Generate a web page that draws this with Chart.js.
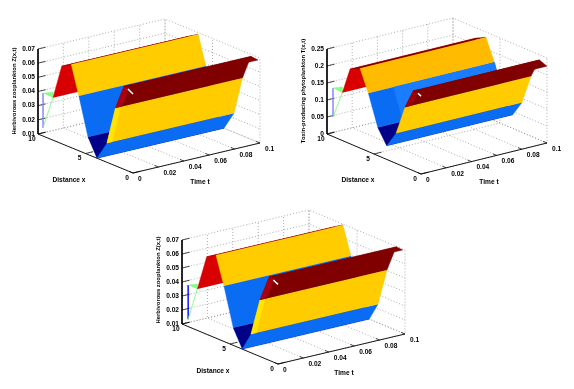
<!DOCTYPE html>
<html>
<head>
<meta charset="utf-8">
<title>Plankton surfaces</title>
<script src="https://cdn.jsdelivr.net/npm/chart.js@4"></script>
<style>
  html, body { margin: 0; padding: 0; background: #fff; }
  #page { position: relative; width: 574px; height: 389px; overflow: hidden; }
  canvas { position: absolute; filter: blur(0.35px); }
</style>
</head>
<body>
<div id="page"></div>
<script>
const xTicks = [0, 5, 10];
const tTicks = [0, 0.02, 0.04, 0.06, 0.08, 0.1];
const tTickLabels = ['0', '0.02', '0.04', '0.06', '0.08', '0.1'];
const zTicksZoo = [0.01, 0.02, 0.03, 0.04, 0.05, 0.06, 0.07];
const zTickLabelsZoo = ['0.01', '0.02', '0.03', '0.04', '0.05', '0.06', '0.07'];
const zTicksToxin = [0, 0.05, 0.1, 0.15, 0.2, 0.25];
const zTickLabelsToxin = ['0', '0.05', '0.1', '0.15', '0.2', '0.25'];

// surface profile along x, the same for every t
const zooX = [8.42, 7.5, 6.5, 5.7, 4.74, 3.79, 2.74, 1.84, 0.95, 0.2];
const zooZ = [0.04, 0.0648, 0.0688, 0.0487, 0.0224, 0.01, 0.0235, 0.0508, 0.0686, 0.068];
const toxinX = [8.37, 7.55, 6.49, 5.6, 4.6, 3.65, 2.66, 1.7, 0.82, 0];
const toxinZ = [0.1406, 0.22, 0.2345, 0.1715, 0.083, 0.04, 0.088, 0.176, 0.235, 0.226];
const zoo2X = [8.4, 7.43, 6.46, 5.63, 4.66, 3.72, 2.81, 1.875, 0.906, 0.24];
const zoo2Z = [0.0396, 0.0654, 0.0694, 0.0496, 0.0226, 0.01, 0.0232, 0.0504, 0.0698, 0.0693];

// stray facets at t = 0 behind the first ridge
const zooEdgeX = [9.47, 8.42, 8.42];
const zooEdgeZ = [0.0404, 0.0439, 0.04];
const zooEdgeLow = 0.0157;
const toxinEdgeX = [9.36, 8.37, 8.37];
const toxinEdgeZ = [0.143, 0.158, 0.1406];
const toxinEdgeLow = 0.0576;
const zoo2EdgeX = [9.36, 8.4, 8.4];
const zoo2EdgeZ = [0.0397, 0.0431, 0.0396];
const zoo2EdgeLow = 0.0152;

// small white glint at the front of the second ridge
const zooGlintX = [0.53, 0];
const zooGlintZ = [0.0678, 0.0658];
const toxinGlintX = [0.32, 0];
const toxinGlintZ = [0.234, 0.229];
const zoo2GlintX = [0.49, 0];
const zoo2GlintZ = [0.0686, 0.0669];

const RED = '#d80000', DARKRED = '#800000', YELLOW = '#ffcc00', ORANGE = '#ffbb00';
const BLUE = '#0a6cf2', NAVY = '#000088', GREEN = '#80ff80';
const TICK_FONT = 'bold 6.6px "Liberation Sans", Arial, sans-serif';
const TITLE_FONT = 'bold 5.9px "Liberation Sans", Arial, sans-serif';

function makePanel(cfg) {
    const canvas = document.createElement('canvas');
    canvas.width = cfg.box[2];
    canvas.height = cfg.box[3];
    canvas.style.left = cfg.box[0] + 'px';
    canvas.style.top = cfg.box[1] + 'px';
    document.getElementById('page').appendChild(canvas);

    const zMin = cfg.zTicks[0];
    const zMax = cfg.zTicks[cfg.zTicks.length - 1];
    const project = (x, t, z) => ({
        x: cfg.corner[0] - cfg.xStep[0] * x / 10 + cfg.tStep[0] * t / 0.1,
        y: cfg.corner[1] - cfg.xStep[1] * x / 10 - cfg.tStep[1] * t / 0.1 - cfg.zHeight * (z - zMin) / (zMax - zMin)
    });

    const datasets = [];
    const addLine = (points, color, width, dash) => datasets.push({
        data: points, showLine: true, pointRadius: 0, borderColor: color,
        borderWidth: width, borderDash: dash || [], fill: false, clip: false
    });
    const addFace = (points, color) => datasets.push({
        data: points, showLine: true, pointRadius: 0, borderColor: color,
        borderWidth: 0.4, backgroundColor: color, fill: 'shape', clip: false
    });

    // dotted box grid
    const grid = '#8a8a8a';
    cfg.zTicks.forEach(z => {
        addLine([project(10, 0, z), project(10, 0.1, z), project(0, 0.1, z)], grid, 0.7, [1, 2]);
    });
    xTicks.forEach(x => {
        addLine([project(x, 0, zMin), project(x, 0.1, zMin), project(x, 0.1, zMax)], grid, 0.7, [1, 2]);
    });
    tTicks.forEach(t => {
        addLine([project(0, t, zMin), project(10, t, zMin), project(10, t, zMax)], grid, 0.7, [1, 2]);
    });

    // solid axes and tick marks
    addLine([project(10, 0, zMax), project(10, 0, zMin), project(0, 0, zMin), project(0, 0.1, zMin)], '#000', 0.9);
    cfg.zTicks.forEach(z => addLine([project(10, 0, z), project(10, 0.006, z)], '#000', 0.7));
    xTicks.forEach(x => addLine([project(x, 0, zMin), project(x, 0.006, zMin)], '#000', 0.7));
    tTicks.forEach(t => addLine([project(0, t, zMin), project(0.4, t, zMin)], '#000', 0.7));

    // stray facets behind the ridge
    const ex = cfg.edgeX, ez = cfg.edgeZ;
    addLine([project(ex[0], 0, cfg.edgeLow), project(ex[0], 0, ez[0])], cfg.edgeBlue, 1.4);
    addLine([project(ex[0], 0, cfg.edgeLow), project(ex[2], 0, ez[2])], GREEN, 0.9);
    addFace(ex.map((x, i) => project(x, 0, ez[i])), GREEN);

    // surface facets, painted from the far side of x to the near side
    const facet = (i, t0, t1, color) => addFace([
        project(cfg.profileX[i], t0, cfg.profileZ[i]),
        project(cfg.profileX[i + 1], t0, cfg.profileZ[i + 1]),
        project(cfg.profileX[i + 1], t1, cfg.profileZ[i + 1]),
        project(cfg.profileX[i], t1, cfg.profileZ[i])
    ], color);
    for (let i = 0; i < cfg.profileX.length - 1; i++) {
        facet(i, 0, 0.1, cfg.faceColors[i]);
        (cfg.strips[i] || []).forEach(s => facet(i, s[0], s[1], s[2]));
    }

    addLine(cfg.glintX.map((x, i) => project(x, 0, cfg.glintZ[i])), '#ffffff', 1.5);

    // later datasets have to land on top
    datasets.forEach((d, i) => { d.order = datasets.length - i; });

    const axisText = {
        id: 'axisText',
        afterDraw(chart) {
            const { ctx } = chart;
            const sx = chart.scales.x, sy = chart.scales.y;
            const put = (text, px, py, align) => {
                ctx.textAlign = align;
                ctx.fillText(text, sx.getPixelForValue(px), sy.getPixelForValue(py));
            };
            ctx.save();
            ctx.font = TICK_FONT;
            ctx.fillStyle = '#000';
            ctx.textBaseline = 'middle';
            cfg.zTicks.forEach((z, i) => {
                const p = project(10, 0, z);
                put(cfg.zTickLabels[i], p.x - 3, p.y, 'right');
            });
            xTicks.forEach(x => {
                const p = project(x, 0, zMin);
                put(String(x), p.x - 6, p.y + 5, 'center');
            });
            tTicks.forEach((t, i) => {
                const p = project(0, t, zMin);
                put(tTickLabels[i], p.x + 5, p.y + 6, 'left');
            });
            put('Distance x', cfg.xLabel[0], cfg.xLabel[1], 'center');
            put('Time t', cfg.tLabel[0], cfg.tLabel[1], 'center');
            ctx.font = TITLE_FONT;
            ctx.translate(sx.getPixelForValue(cfg.zLabel[0]), sy.getPixelForValue(cfg.zLabel[1]));
            ctx.rotate(-Math.PI / 2);
            ctx.textAlign = 'center';
            ctx.fillText(cfg.zTitle, 0, 0);
            ctx.restore();
        }
    };

    return new Chart(canvas.getContext('2d'), {
        type: 'scatter',
        data: { datasets },
        plugins: [axisText],
        options: {
            responsive: false,
            animation: false,
            events: [],
            layout: { padding: 0 },
            plugins: { legend: { display: false }, tooltip: { enabled: false } },
            scales: {
                x: { display: false, type: 'linear', min: cfg.box[0], max: cfg.box[0] + cfg.box[2] },
                y: { display: false, type: 'linear', reverse: true, min: cfg.box[1], max: cfg.box[1] + cfg.box[3] }
            }
        }
    });
}

makePanel({
    box: [0, 0, 287, 195], corner: [133, 173], xStep: [95, 39], tStep: [127, 30], zHeight: 85,
    zTicks: zTicksZoo, zTickLabels: zTickLabelsZoo, zTitle: 'Herbivorous zooplankton Z(x,t)',
    profileX: zooX, profileZ: zooZ,
    faceColors: [RED, DARKRED, YELLOW, BLUE, NAVY, BLUE, YELLOW, DARKRED, DARKRED],
    strips: { 6: [[0, 0.004, '#ffe600']], 7: [[0, 0.005, '#a80010']] },
    edgeX: zooEdgeX, edgeZ: zooEdgeZ, edgeLow: zooEdgeLow, edgeBlue: '#7f7fff',
    glintX: zooGlintX, glintZ: zooGlintZ,
    xLabel: [69, 180], tLabel: [200, 182], zLabel: [14, 91]
});

makePanel({
    box: [287, 0, 287, 195], corner: [421, 174], xStep: [94, 40], tStep: [126, 31], zHeight: 85,
    zTicks: zTicksToxin, zTickLabels: zTickLabelsToxin, zTitle: 'Toxin-producing phytoplankton T(x,t)',
    profileX: toxinX, profileZ: toxinZ,
    faceColors: [RED, DARKRED, ORANGE, BLUE, NAVY, BLUE, YELLOW, DARKRED, DARKRED],
    strips: { 3: [[0.02, 0.1, '#1a7cff']], 7: [[0, 0.005, '#a00008']] },
    edgeX: toxinEdgeX, edgeZ: toxinEdgeZ, edgeLow: toxinEdgeLow, edgeBlue: '#7f7fff',
    glintX: toxinGlintX, glintZ: toxinGlintZ,
    xLabel: [358, 180], tLabel: [489, 182], zLabel: [303, 91]
});

makePanel({
    box: [140, 195, 300, 194], corner: [278, 364], xStep: [96, 40], tStep: [127, 30], zHeight: 84,
    zTicks: zTicksZoo, zTickLabels: zTickLabelsZoo, zTitle: 'Herbivorous zooplankton Z(x,t)',
    profileX: zoo2X, profileZ: zoo2Z,
    faceColors: [RED, DARKRED, YELLOW, BLUE, NAVY, BLUE, YELLOW, DARKRED, DARKRED],
    strips: { 6: [[0, 0.004, '#ffe600']], 7: [[0, 0.005, '#a80010']] },
    edgeX: zoo2EdgeX, edgeZ: zoo2EdgeZ, edgeLow: zoo2EdgeLow, edgeBlue: '#0000ff',
    glintX: zoo2GlintX, glintZ: zoo2GlintZ,
    xLabel: [213, 371], tLabel: [344, 373], zLabel: [158, 280]
});
</script>
</body>
</html>
